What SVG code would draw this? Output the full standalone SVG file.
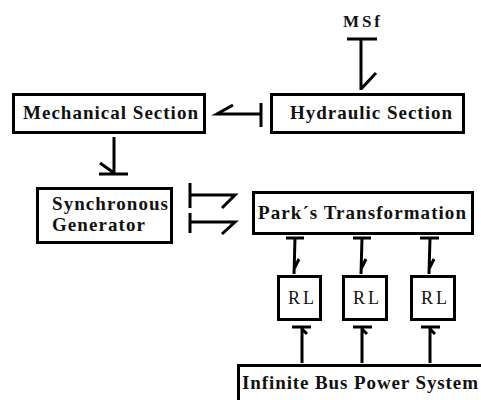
<svg xmlns="http://www.w3.org/2000/svg" width="481" height="400" viewBox="0 0 481 400">
<style>
.box{fill:#fff;stroke:#000;stroke-width:3}
.t{font-family:"Liberation Serif","Times New Roman",serif;font-weight:bold;fill:#111}
.r{font-family:"Liberation Serif","Times New Roman",serif;font-weight:normal;fill:#111}
.b{stroke:#000;stroke-width:3;fill:none;stroke-linecap:butt}
</style>
<rect width="481" height="400" fill="#fff"/>
<g id="msf"><text class="t" x="343" y="27" font-size="17" textLength="37" lengthAdjust="spacing">MSf</text></g>
<g id="mechanical"><rect class="box" x="13.5" y="94.5" width="191" height="38"/><text class="t" x="23" y="119" font-size="19" textLength="175" lengthAdjust="spacing">Mechanical Section</text></g>
<g id="hydraulic"><rect class="box" x="271.5" y="94.5" width="192" height="38"/><text class="t" x="290" y="119" font-size="19" textLength="162" lengthAdjust="spacing">Hydraulic Section</text></g>
<g id="generator"><rect class="box" x="37.5" y="188.5" width="134" height="54"/><text class="t" x="52" y="210" font-size="19" textLength="116" lengthAdjust="spacing">Synchronous</text><text class="t" x="52" y="231" font-size="19" textLength="93" lengthAdjust="spacing">Generator</text></g>
<g id="park"><rect class="box" x="253.5" y="192.5" width="219" height="41"/><text class="t" x="258" y="219" font-size="19" textLength="208" lengthAdjust="spacing">Park´s Transformation</text></g>
<g id="rl1"><rect class="box" x="278.5" y="276.5" width="42" height="43"/><text class="r" x="288" y="304" font-size="18" textLength="26" lengthAdjust="spacing">RL</text></g>
<g id="rl2"><rect class="box" x="343.5" y="276.5" width="43" height="43"/><text class="r" x="353" y="304" font-size="18" textLength="26" lengthAdjust="spacing">RL</text></g>
<g id="rl3"><rect class="box" x="411.5" y="276.5" width="43" height="43"/><text class="r" x="421" y="304" font-size="18" textLength="26" lengthAdjust="spacing">RL</text></g>
<g id="infinite"><rect class="box" x="238.5" y="365.5" width="260" height="50"/><text class="t" x="242" y="389" font-size="19" textLength="236" lengthAdjust="spacing">Infinite Bus Power System</text></g>
<g id="connectors">
<path class="b" d="M347 39H377M361 39V90M361 89L376 73"/>
<path class="b" d="M261 103V127M261 114H217L233 105"/>
<path class="b" d="M114 137V174M99 174H128M114 173L100 163"/>
<path class="b" d="M190 183V208M190 195H235L222 208"/>
<path class="b" d="M190 213V233M190 222H235L222 234"/>
<path class="b" d="M286 238H304M295 238L294 274M294 269L299 259"/>
<path class="b" d="M353 238H371M362 238L361 274M361 269L366 259"/>
<path class="b" d="M420 238H439M430 238L429 274M429 269L434 259"/>
<path class="b" d="M292 327H311M302 327V363M302 329L307 334"/>
<path class="b" d="M353 327H372M362 327V363M362 329L367 334"/>
<path class="b" d="M421 327H440M430 327V363M430 329L435 334"/>
</g>
</svg>
